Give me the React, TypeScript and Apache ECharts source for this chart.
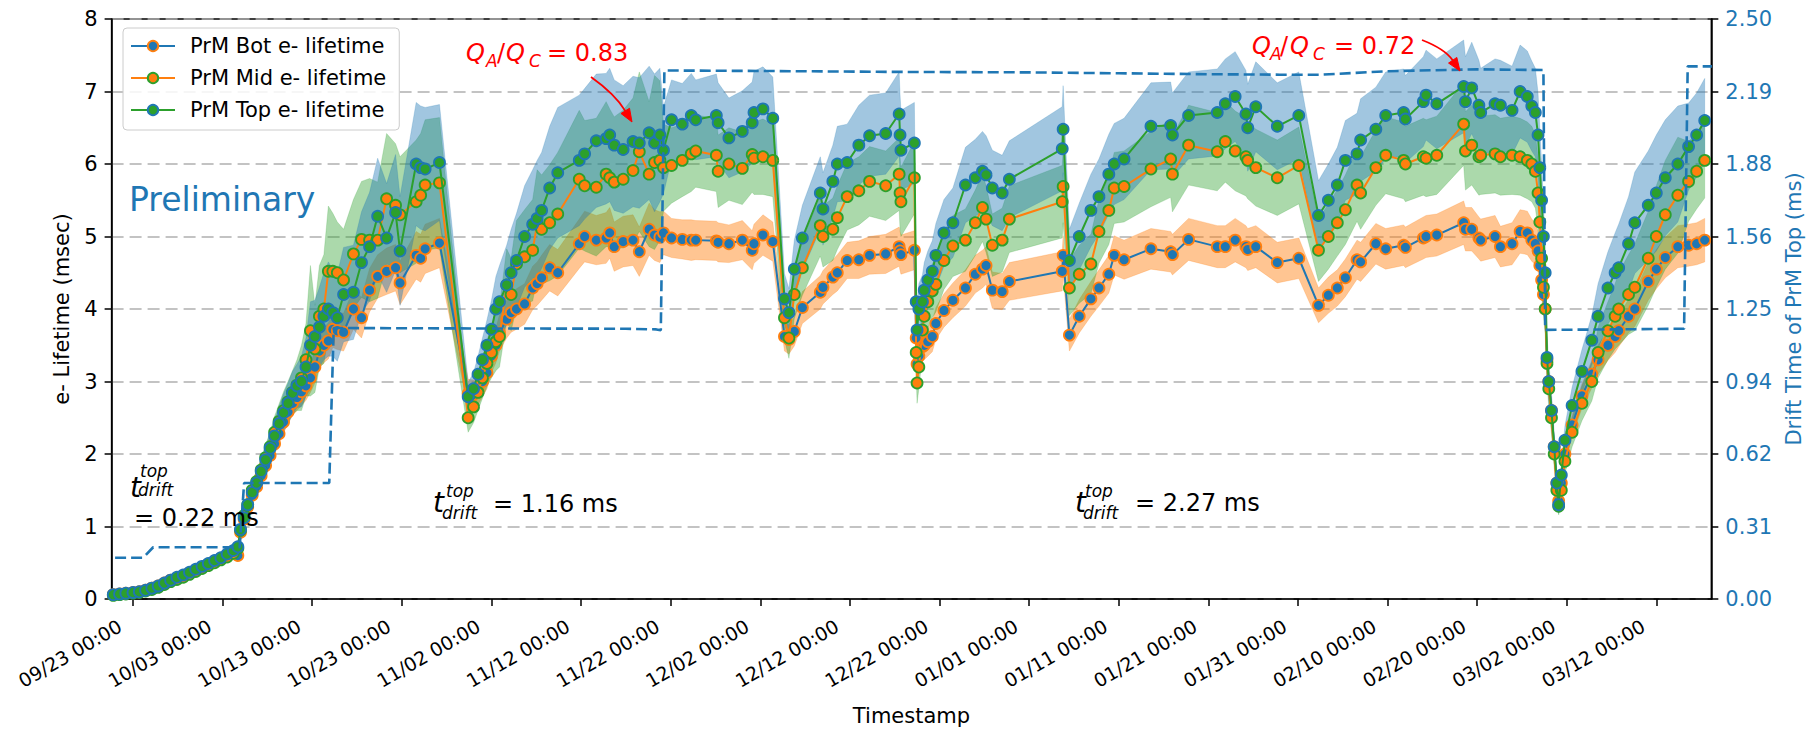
import React, { useEffect, useRef } from 'react';
import * as echarts from 'echarts';

// x values: days since 2018-09-23 00:00
const days = [
  -2.2, -1.5, -0.8, 0, 0.7, 1.4, 2.1, 2.8, 3.5, 4.2,
  4.9, 5.6, 6.3, 7.0, 7.7, 8.4, 9.1, 9.8, 10.5, 11.2,
  11.7, 12.0, 12.4, 12.8, 13.3, 13.8, 14.3, 14.8, 15.3, 15.8,
  16.3, 16.8, 17.3, 17.8, 18.3, 18.8, 19.3, 19.8, 20.3, 20.8,
  21.3, 21.8, 22.3, 22.8, 23.5, 24.6, 25.5, 26.4, 27.3, 28.3,
  29.3, 29.8, 31.6, 32.1, 32.6, 34.2, 37.4, 38.0, 38.5, 39.0,
  39.5, 40.0, 40.5, 40.9, 41.7, 42.2, 42.8, 43.7, 44.6, 45.1,
  45.6, 46.5, 47.4, 49.8, 50.4, 51.7, 52.8, 53.2, 53.7, 54.7,
  55.8, 56.5, 57.6, 58.2, 58.8, 59.2, 60.1, 61.3, 62.3, 62.8,
  65.1, 65.3, 66.5, 68.0, 69.1, 69.3, 70.3, 71.4, 72.7, 73.2,
  73.8, 74.7, 76.7, 77.0, 78.1, 78.6, 79.7, 81.0, 82.2, 84.0,
  85.5, 85.6, 85.7, 87.2, 87.4, 87.5, 87.7, 88.1, 88.3, 88.7,
  89.2, 89.6, 90.5, 91.5, 92.9, 94.0, 94.8, 95.2, 95.9, 97.0,
  97.8, 103.7, 103.8, 104.5, 105.6, 106.9, 107.8, 108.9, 109.5, 110.6,
  113.6, 115.8, 116.0, 117.8, 121.0, 121.9, 123.0, 124.2, 124.4, 125.3,
  127.7, 130.1, 132.3, 133.4, 134.4, 135.3, 136.6, 137.0, 138.7, 139.8,
  141.8, 142.0, 144.0, 144.3, 145.5, 148.5, 148.7, 149.4, 150.2, 150.4,
  152.0, 152.6, 153.9, 154.8, 155.6, 156.1, 156.5, 156.8, 157.0, 157.2,
  157.4, 157.6, 157.8, 158.0, 158.3, 158.6, 158.9, 159.1, 159.4, 159.8,
  160.6, 161.7, 162.8, 163.5, 164.6, 165.4, 165.8, 166.9, 167.6, 169.1,
  170.0, 171.0, 172.4, 173.6, 174.5, 175.4,
];

const botLifetime = [
  0.06, 0.07, 0.08, 0.09, 0.10, 0.12, 0.15, 0.18, 0.22, 0.26,
  0.29, 0.32, 0.36, 0.40, 0.44, 0.48, 0.52, 0.56, 0.61, 0.66,
  0.60, 0.92, 1.1, 1.27, 1.43, 1.55, 1.7, 1.84, 1.98, 2.14,
  2.28, 2.44, 2.58, 2.7, 2.78, 2.86, 2.94, 3.05, 3.2, 3.42,
  3.5, 3.56, 3.72, 3.7, 3.68, 4.0, 3.88, 4.26, 4.45, 4.52,
  4.57, 4.36, 4.74, 4.7, 4.83, 4.91, 2.83, 2.82, 2.88, 3.0,
  3.12, 3.35, 3.5, 3.67, 3.86, 3.95, 4.0, 4.07, 4.29, 4.35,
  4.43, 4.57, 4.5, 4.9, 5.0, 4.95, 4.98, 5.05, 4.86, 4.93,
  4.95, 4.79, 5.1, 5.02, 4.99, 5.05, 4.98, 4.96, 4.95, 4.95,
  4.94, 4.92, 4.9, 4.95, 4.81, 4.9, 5.02, 4.93, 3.62, 3.58,
  3.69, 4.02, 4.23, 4.3, 4.44, 4.5, 4.67, 4.68, 4.74, 4.76,
  4.86, 4.8, 4.75, 4.81, 3.6, 3.24, 3.35, 3.48, 3.5, 3.55,
  3.62, 3.8, 3.98, 4.12, 4.29, 4.48, 4.55, 4.6, 4.26, 4.24,
  4.38, 4.52, 4.74, 3.64, 3.9, 4.14, 4.29, 4.48, 4.74, 4.68,
  4.83, 4.79, 4.75, 4.96, 4.86, 4.86, 4.95, 4.86, 4.82, 4.86,
  4.64, 4.7, 4.05, 4.19, 4.29, 4.43, 4.68, 4.65, 4.9, 4.83,
  4.88, 4.85, 4.98, 5.0, 5.02, 5.19, 5.1, 5.1, 4.98, 4.95,
  5.0, 4.86, 4.9, 5.07, 5.05, 4.95, 4.9, 4.8, 4.6, 4.4,
  4.2, 4.0, 3.3, 3.0, 2.6, 2.1, 1.6, 1.35, 1.6, 2.0,
  2.4, 2.8, 3.1, 3.3, 3.5, 3.62, 3.7, 3.9, 4.0, 4.38,
  4.55, 4.71, 4.86, 4.88, 4.9, 4.95,
];

const botErr = [
  0.01, 0.01, 0.01, 0.01, 0.01, 0.01, 0.02, 0.02, 0.02, 0.02,
  0.02, 0.02, 0.03, 0.03, 0.03, 0.03, 0.03, 0.04, 0.04, 0.04,
  0.04, 0.06, 0.07, 0.08, 0.09, 0.1, 0.1, 0.11, 0.12, 0.13,
  0.14, 0.15, 0.16, 0.17, 0.18, 0.19, 0.2, 0.2, 0.22, 0.23,
  0.24, 0.25, 0.25, 0.26, 0.26, 0.28, 0.28, 0.3, 0.3, 0.32,
  0.32, 0.3, 0.33, 0.33, 0.34, 0.34, 0.2, 0.2, 0.2, 0.21,
  0.22, 0.23, 0.24, 0.25, 0.26, 0.27, 0.28, 0.28, 0.3, 0.3,
  0.31, 0.32, 0.32, 0.34, 0.35, 0.34, 0.35, 0.35, 0.34, 0.35,
  0.35, 0.34, 0.36, 0.35, 0.35, 0.3, 0.27, 0.27, 0.28, 0.27,
  0.27, 0.27, 0.26, 0.27, 0.27, 0.27, 0.28, 0.27, 0.2, 0.2,
  0.2, 0.22, 0.23, 0.23, 0.24, 0.25, 0.25, 0.26, 0.26, 0.27,
  0.27, 0.27, 0.27, 0.27, 0.2, 0.18, 0.19, 0.2, 0.2, 0.2,
  0.21, 0.22, 0.23, 0.24, 0.25, 0.26, 0.26, 0.26, 0.25, 0.25,
  0.26, 0.27, 0.27, 0.22, 0.23, 0.24, 0.25, 0.26, 0.27, 0.27,
  0.28, 0.28, 0.28, 0.29, 0.29, 0.29, 0.3, 0.29, 0.29, 0.29,
  0.28, 0.28, 0.24, 0.25, 0.25, 0.26, 0.27, 0.27, 0.28, 0.28,
  0.28, 0.28, 0.29, 0.29, 0.29, 0.3, 0.3, 0.3, 0.29, 0.29,
  0.29, 0.28, 0.29, 0.3, 0.3, 0.29, 0.29, 0.28, 0.27, 0.26,
  0.25, 0.24, 0.2, 0.18, 0.16, 0.13, 0.1, 0.09, 0.1, 0.12,
  0.15, 0.17, 0.19, 0.2, 0.21, 0.22, 0.22, 0.23, 0.24, 0.26,
  0.27, 0.28, 0.29, 0.29, 0.29, 0.3,
];

const midLifetime = [
  0.05, 0.06, 0.07, 0.08, 0.09, 0.11, 0.13, 0.16, 0.2, 0.24,
  0.27, 0.3, 0.34, 0.38, 0.42, 0.46, 0.5, 0.54, 0.58, 0.63,
  0.70, 0.95, 1.15, 1.3, 1.5, 1.62, 1.78, 1.95, 2.1, 2.3,
  2.45, 2.6, 2.72, 2.85, 2.95, 3.05, 3.3, 3.7, 3.45, 3.9,
  4.0, 4.52, 4.52, 4.5, 4.4, 4.76, 4.96, 4.95, 4.95, 5.52,
  5.43, 5.3, 5.48, 5.57, 5.71, 5.74, 2.5, 2.65, 2.85, 3.05,
  3.25, 3.4, 3.55, 3.62, 4.33, 4.2, 4.62, 4.72, 4.81, 5.17,
  5.1, 5.19, 5.31, 5.79, 5.7, 5.68, 5.86, 5.81, 5.75, 5.79,
  5.91, 6.17, 5.86, 6.02, 6.05, 5.95, 5.98, 6.05, 6.14, 6.18,
  6.12, 5.9, 6.0, 5.94, 6.13, 6.08, 6.1, 6.05, 3.88, 3.6,
  4.2, 4.57, 5.15, 5.0, 5.1, 5.26, 5.55, 5.63, 5.76, 5.7,
  5.86, 5.6, 5.48, 5.81, 3.4, 2.98, 3.2, 3.71, 3.9, 4.1,
  4.25, 4.34, 4.67, 4.87, 4.95, 5.19, 5.4, 5.24, 4.88, 4.95,
  5.24, 5.48, 5.69, 4.29, 4.48, 4.62, 5.07, 5.36, 5.67, 5.69,
  5.93, 6.07, 5.86, 6.26, 6.17, 6.31, 6.18, 6.1, 6.05, 5.95,
  5.81, 5.98, 4.81, 5.0, 5.19, 5.37, 5.71, 5.6, 5.95, 6.12,
  6.05, 6.0, 6.1, 6.08, 6.12, 6.55, 6.18, 6.26, 6.1, 6.12,
  6.14, 6.1, 6.12, 6.1, 6.05, 6.0, 5.9, 5.6, 5.2, 4.7,
  4.3, 4.0, 3.25, 2.9, 2.5, 2.0, 1.5, 1.28, 1.5, 1.9,
  2.3, 2.7, 3.0, 3.4, 3.7, 3.9, 4.0, 4.2, 4.3, 4.7,
  5.0, 5.3, 5.57, 5.76, 5.9, 6.05,
];

const midErr = [
  0.02, 0.02, 0.02, 0.02, 0.02, 0.02, 0.02, 0.02, 0.03, 0.03,
  0.03, 0.03, 0.04, 0.04, 0.04, 0.05, 0.05, 0.05, 0.06, 0.06,
  0.07, 0.08, 0.1, 0.12, 0.13, 0.15, 0.16, 0.18, 0.2, 0.22,
  0.24, 0.26, 0.28, 0.3, 0.35, 0.45, 0.5, 0.9, 0.6, 0.7,
  0.75, 0.9, 0.8, 0.7, 0.7, 0.75, 0.8, 0.85, 0.8, 0.9,
  0.85, 0.8, 0.85, 0.85, 0.9, 0.9, 0.2, 0.22, 0.25, 0.28,
  0.32, 0.35, 0.4, 0.42, 0.5, 0.5, 0.6, 0.65, 0.7, 0.75,
  0.75, 0.8, 0.85, 0.95, 0.9, 0.95, 1.0, 0.95, 0.9, 0.95,
  1.0, 1.1, 1.0, 1.2, 1.1, 0.6, 0.52, 0.5, 0.52, 0.5,
  0.5, 0.5, 0.5, 0.5, 0.52, 0.5, 0.52, 0.5, 0.3, 0.28,
  0.33, 0.38, 0.42, 0.42, 0.43, 0.44, 0.46, 0.47, 0.48, 0.48,
  0.5, 0.5, 0.48, 0.5, 0.3, 0.28, 0.3, 0.33, 0.35, 0.36,
  0.37, 0.38, 0.4, 0.42, 0.43, 0.45, 0.47, 0.46, 0.43, 0.44,
  0.46, 0.5, 0.5, 0.38, 0.4, 0.41, 0.44, 0.47, 0.49, 0.49,
  0.52, 0.53, 0.52, 0.55, 0.54, 0.56, 0.55, 0.54, 0.53, 0.53,
  0.52, 0.53, 0.43, 0.45, 0.46, 0.48, 0.5, 0.5, 0.52, 0.53,
  0.53, 0.52, 0.53, 0.53, 0.54, 0.57, 0.54, 0.55, 0.53, 0.54,
  0.54, 0.53, 0.54, 0.53, 0.53, 0.52, 0.51, 0.49, 0.45, 0.41,
  0.38, 0.35, 0.28, 0.25, 0.22, 0.18, 0.14, 0.12, 0.14, 0.17,
  0.2, 0.24, 0.27, 0.35, 0.4, 0.45, 0.5, 0.55, 0.6, 0.65,
  0.7, 0.75, 0.8, 0.55, 0.52, 0.52,
];

const topLifetime = [
  0.06, 0.07, 0.08, 0.09, 0.10, 0.12, 0.15, 0.18, 0.22, 0.26,
  0.3, 0.33, 0.37, 0.41, 0.45, 0.49, 0.53, 0.57, 0.62, 0.67,
  0.72, 0.96, 1.12, 1.3, 1.47, 1.6, 1.76, 1.92, 2.08, 2.25,
  2.42, 2.57, 2.7, 2.84, 2.94, 3.0, 3.2, 3.5, 3.62, 3.75,
  3.9, 4.0, 3.95, 3.88, 4.2, 4.23, 4.64, 4.86, 5.28, 4.98,
  5.33, 4.8, 6.0, 5.95, 5.93, 6.02, 2.79, 2.9, 3.1, 3.3,
  3.5, 3.72, 4.0, 4.1, 4.33, 4.5, 4.67, 5.0, 5.17, 5.25,
  5.36, 5.67, 5.88, 6.05, 6.14, 6.32, 6.35, 6.4, 6.26, 6.2,
  6.31, 6.29, 6.43, 6.29, 6.4, 6.19, 6.61, 6.55, 6.67, 6.61,
  6.67, 6.57, 6.36, 6.45, 6.57, 6.71, 6.76, 6.63, 4.14, 3.95,
  4.55, 4.98, 5.6, 5.38, 5.76, 6.0, 6.02, 6.26, 6.39, 6.42,
  6.69, 6.4, 6.19, 6.29, 4.1, 3.71, 4.0, 4.1, 4.26, 4.4,
  4.52, 4.74, 5.05, 5.19, 5.71, 5.81, 5.9, 5.85, 5.67, 5.6,
  5.79, 6.21, 6.48, 4.67, 5.0, 5.36, 5.55, 5.86, 6.0, 6.07,
  6.52, 6.53, 6.4, 6.67, 6.71, 6.83, 6.93, 6.69, 6.5, 6.79,
  6.52, 6.67, 5.29, 5.5, 5.71, 6.05, 6.14, 6.33, 6.48, 6.67,
  6.71, 6.62, 6.86, 6.95, 6.83, 7.07, 6.86, 7.05, 6.81, 6.71,
  6.83, 6.81, 6.74, 7.0, 6.93, 6.8, 6.71, 6.4, 5.95, 5.5,
  5.0, 4.5, 3.33, 3.0, 2.6, 2.1, 1.6, 1.3, 1.71, 2.19,
  2.67, 3.14, 3.57, 3.9, 4.29, 4.5, 4.57, 4.9, 5.19, 5.43,
  5.6, 5.81, 6.0, 6.24, 6.4, 6.6,
];

const topErr = [
  0.02, 0.02, 0.02, 0.02, 0.02, 0.02, 0.02, 0.03, 0.03, 0.03,
  0.03, 0.04, 0.04, 0.04, 0.05, 0.05, 0.05, 0.06, 0.06, 0.07,
  0.07, 0.08, 0.1, 0.12, 0.13, 0.15, 0.16, 0.18, 0.2, 0.22,
  0.24, 0.26, 0.28, 0.3, 0.3, 0.35, 0.4, 0.6, 0.5, 0.55,
  0.6, 0.65, 0.6, 0.6, 0.65, 0.65, 0.7, 0.75, 0.8, 0.75,
  0.8, 0.75, 0.85, 0.85, 0.85, 0.8, 0.2, 0.22, 0.25, 0.3,
  0.35, 0.4, 0.45, 0.5, 0.55, 0.6, 0.65, 0.7, 0.75, 0.8,
  0.8, 0.85, 0.9, 0.9, 0.9, 0.92, 0.9, 0.92, 0.9, 0.88,
  0.9, 0.9, 0.92, 0.95, 0.92, 0.6, 0.55, 0.56, 0.58, 0.55,
  0.57, 0.55, 0.55, 0.56, 0.56, 0.57, 0.58, 0.57, 0.35, 0.33,
  0.4, 0.45, 0.5, 0.5, 0.5, 0.52, 0.53, 0.55, 0.56, 0.56,
  0.58, 0.56, 0.55, 0.56, 0.35, 0.33, 0.35, 0.37, 0.38, 0.4,
  0.42, 0.44, 0.46, 0.48, 0.52, 0.53, 0.55, 0.54, 0.52, 0.52,
  0.53, 0.58, 0.6, 0.43, 0.46, 0.5, 0.52, 0.55, 0.56, 0.56,
  0.6, 0.6, 0.58, 0.6, 0.6, 0.62, 0.62, 0.6, 0.6, 0.62,
  0.6, 0.6, 0.48, 0.5, 0.52, 0.55, 0.56, 0.57, 0.58, 0.6,
  0.6, 0.6, 0.62, 0.62, 0.62, 0.64, 0.62, 0.63, 0.62, 0.61,
  0.62, 0.62, 0.61, 0.64, 0.63, 0.62, 0.61, 0.58, 0.54, 0.5,
  0.46, 0.42, 0.3, 0.27, 0.24, 0.19, 0.15, 0.12, 0.16, 0.2,
  0.25, 0.3, 0.34, 0.45, 0.5, 0.55, 0.6, 0.65, 0.7, 0.75,
  0.8, 0.8, 0.8, 0.6, 0.58, 0.58,
];

// drift time of PrM Top (ms), right axis, as a step line
const driftDays = [
  -2.0, 1.15, 2.25, 11.9, 12.4, 21.9, 22.4, 40.0, 55.0, 58.4, 58.9, 59.3,
  70.0, 85.0, 100.0, 110.0, 120.0, 128.0, 132.5, 140.0, 150.0, 157.4, 157.6,
  165.0, 173.1, 173.5, 176.2,
];
const driftTime = [
  0.178, 0.178, 0.223, 0.223, 0.5, 0.5, 1.168, 1.166, 1.165, 1.162, 1.158, 2.278,
  2.276, 2.272, 2.27, 2.266, 2.262, 2.26, 2.26, 2.275, 2.283, 2.28, 1.16,
  1.162, 1.165, 2.296, 2.296,
];

const xTickDays = [0, 10, 20, 30, 40, 50, 60, 70, 80, 90, 100, 110, 120, 130, 140, 150, 160, 170];
const xTickLabels = [
  '09/23 00:00', '10/03 00:00', '10/13 00:00', '10/23 00:00', '11/02 00:00', '11/12 00:00',
  '11/22 00:00', '12/02 00:00', '12/12 00:00', '12/22 00:00', '01/01 00:00', '01/11 00:00',
  '01/21 00:00', '01/31 00:00', '02/10 00:00', '02/20 00:00', '03/02 00:00', '03/12 00:00',
];
const rightTickLabels = ['0.00', '0.31', '0.62', '0.94', '1.25', '1.56', '1.88', '2.19', '2.50'];

const seriesNames = ['PrM Bot e- lifetime', 'PrM Mid e- lifetime', 'PrM Top e- lifetime'];

const BLUE = '#1f77b4';
const ORANGE = '#ff7f0e';
const GREEN = '#2ca02c';
const FONT = 'DejaVu Sans';
const X_MIN = -2.39;
const X_MAX = 176.14;

const N = Math.min(days.length, botLifetime.length, botErr.length, midLifetime.length,
  midErr.length, topLifetime.length, topErr.length);

function band(name: string, vals: number[], errs: number[], fill: string) {
  return {
    type: 'custom',
    name,
    coordinateSystem: 'cartesian2d',
    xAxisIndex: 0,
    yAxisIndex: 0,
    silent: true,
    z: 1,
    data: [[days[0], vals[0]]],
    renderItem: (_params: any, api: any) => {
      const upper: number[][] = [];
      const lower: number[][] = [];
      for (let i = 0; i < N; i++) {
        upper.push(api.coord([days[i], vals[i] + errs[i]]));
        lower.push(api.coord([days[i], Math.max(0, vals[i] - errs[i])]));
      }
      return {
        type: 'polygon',
        shape: { points: upper.concat(lower.reverse()) },
        style: { fill, stroke: fill, lineWidth: 0.5 },
      };
    },
  };
}

function lifetimeLine(name: string, vals: number[], color: string, edge: string, z: number) {
  const data: number[][] = [];
  for (let i = 0; i < N; i++) data.push([days[i], vals[i]]);
  return {
    type: 'line',
    name,
    data,
    symbol: 'circle',
    symbolSize: 11,
    showSymbol: true,
    z,
    lineStyle: { color, width: 2 },
    itemStyle: { color, borderColor: edge, borderWidth: 1.8 },
    emphasis: { disabled: true },
  };
}

function txt(text: string, x: number, y: number, size: number, fill: string, italic = false, align = 'left') {
  return {
    type: 'text',
    x,
    y,
    z: 100,
    silent: true,
    style: {
      text,
      fill,
      fontSize: size,
      fontFamily: FONT,
      fontStyle: italic ? 'italic' : 'normal',
      align,
      verticalAlign: 'middle',
    },
  };
}

function tDrift(tx: number, ty: number, supX: number, supY: number, subX: number, subY: number, val: string, vx: number, vy: number) {
  return [
    txt('t', tx, ty, 28, '#000', true),
    txt('top', supX, supY, 17, '#000', true),
    txt('drift', subX, subY, 17, '#000', true),
    txt(val, vx, vy, 24, '#000'),
  ];
}

function qRatio(x: number[], y: number, ySub: number, val: string) {
  return [
    txt('Q', x[0], y, 24, 'red', true),
    txt('A', x[1], ySub, 17, 'red', true),
    txt('/', x[2], y, 24, 'red'),
    txt('Q', x[3], y, 24, 'red', true),
    txt('C', x[4], ySub, 17, 'red', true),
    txt(val, x[5], y, 24, 'red'),
  ];
}

function arrow(x1: number, y1: number, cx: number, cy: number, x2: number, y2: number) {
  let dx = x2 - cx;
  let dy = y2 - cy;
  const len = Math.sqrt(dx * dx + dy * dy);
  dx /= len;
  dy /= len;
  const hl = 13;
  const hw = 5;
  const bx = x2 - hl * dx;
  const by = y2 - hl * dy;
  return [
    {
      type: 'bezierCurve',
      z: 100,
      silent: true,
      shape: { x1, y1, x2: bx, y2: by, cpx1: cx, cpy1: cy },
      style: { stroke: 'red', lineWidth: 1.8, fill: null },
    },
    {
      type: 'polygon',
      z: 100,
      silent: true,
      shape: { points: [[x2, y2], [bx - hw * dy, by + hw * dx], [bx + hw * dy, by - hw * dx]] },
      style: { fill: 'red', stroke: 'red', lineWidth: 1 },
    },
  ];
}

export default function App() {
  const ref = useRef<HTMLDivElement>(null);

  useEffect(() => {
    if (!ref.current) return;
    const chart = echarts.init(ref.current, undefined, { renderer: 'svg' });

    const driftData: number[][] = driftDays.map((d, i) => [d, driftTime[i]]);

    const graphic: any[] = [
      txt('Preliminary', 129, 199, 33, BLUE),
      ...tDrift(130, 487, 140, 471, 138, 490, '= 0.22 ms', 134, 518),
      ...tDrift(433, 502, 446, 491, 442, 513, '= 1.16 ms', 493, 504),
      ...tDrift(1075, 502, 1085, 491, 1083, 513, '= 2.27 ms', 1135, 503),
      ...qRatio([466, 486, 497, 506, 529, 547], 53, 61, '= 0.83'),
      ...qRatio([1252, 1270, 1280, 1290, 1313, 1334], 46, 54, '= 0.72'),
      ...arrow(591, 77, 615, 94, 632, 122),
      ...arrow(1422, 40, 1445, 49, 1460, 71),
    ];

    const option: any = {
      animation: false,
      backgroundColor: '#fff',
      textStyle: { fontFamily: FONT },
      grid: {
        left: 111.6,
        right: 99,
        top: 19,
        bottom: 130.5,
        show: true,
        borderColor: '#000',
        borderWidth: 1.5,
        backgroundColor: 'transparent',
        containLabel: false,
      },
      legend: {
        data: seriesNames,
        orient: 'vertical',
        left: 123,
        top: 28,
        padding: [7, 13, 9, 7],
        itemGap: 10,
        itemWidth: 44,
        itemHeight: 13,
        backgroundColor: 'rgba(255,255,255,0.85)',
        borderColor: '#cccccc',
        borderWidth: 1,
        borderRadius: 4,
        textStyle: { fontSize: 21, color: '#000', fontFamily: FONT, lineHeight: 22, padding: [0, 0, 0, 10] },
        selectedMode: false,
      },
      xAxis: {
        type: 'value',
        min: X_MIN,
        max: X_MAX,
        name: 'Timestamp',
        nameLocation: 'middle',
        nameGap: 106,
        nameTextStyle: { fontSize: 21, color: '#000', fontFamily: FONT },
        axisLine: { show: true, onZero: false, lineStyle: { color: '#000', width: 1.5 } },
        axisTick: { show: true, customValues: xTickDays, length: 7, inside: false, lineStyle: { color: '#000', width: 1.5 } },
        axisLabel: {
          customValues: xTickDays,
          rotate: 30,
          fontSize: 19,
          color: '#000',
          fontFamily: FONT,
          margin: 18,
          padding: [0, 15, 0, 0],
          formatter: (v: number) => xTickLabels[Math.round(v / 10)] ?? '',
        },
        splitLine: { show: false },
      },
      yAxis: [
        {
          type: 'value',
          min: 0,
          max: 8,
          interval: 1,
          position: 'left',
          name: 'e- Lifetime (msec)',
          nameLocation: 'middle',
          nameGap: 39,
          nameTextStyle: { fontSize: 21, color: '#000', fontFamily: FONT },
          axisLine: { show: true, onZero: false, lineStyle: { color: '#000', width: 1.5 } },
          axisTick: { show: true, length: 7, lineStyle: { color: '#000', width: 1.5 } },
          axisLabel: { fontSize: 21, color: '#000', fontFamily: FONT, margin: 14, showMinLabel: true, showMaxLabel: true },
          splitLine: { show: true, lineStyle: { color: '#b0b0b0', width: 1.5, type: [12, 6] } },
        },
        {
          type: 'value',
          min: 0,
          max: 2.5,
          interval: 0.3125,
          position: 'right',
          name: 'Drift Time of PrM Top (ms)',
          nameLocation: 'middle',
          nameGap: 66,
          nameTextStyle: { fontSize: 21, color: BLUE, fontFamily: FONT },
          axisLine: { show: true, onZero: false, lineStyle: { color: '#000', width: 1.5 } },
          axisTick: { show: true, length: 7, lineStyle: { color: '#000', width: 1.5 } },
          axisLabel: {
            fontSize: 21,
            color: BLUE,
            fontFamily: FONT,
            margin: 14,
            showMinLabel: true,
            showMaxLabel: true,
            formatter: (v: number) => rightTickLabels[Math.round(v / 0.3125)] ?? '',
          },
          splitLine: { show: false },
        },
      ],
      series: [
        band('Bot band', botLifetime, botErr, 'rgba(255,127,14,0.45)'),
        band('Mid band', midLifetime, midErr, 'rgba(44,160,44,0.4)'),
        band('Top band', topLifetime, topErr, 'rgba(31,119,180,0.42)'),
        lifetimeLine(seriesNames[0], botLifetime, BLUE, ORANGE, 3),
        lifetimeLine(seriesNames[1], midLifetime, ORANGE, GREEN, 4),
        lifetimeLine(seriesNames[2], topLifetime, GREEN, BLUE, 5),
        {
          type: 'line',
          name: 'Drift time',
          yAxisIndex: 1,
          data: driftData,
          symbol: 'none',
          z: 6,
          silent: true,
          lineStyle: { color: BLUE, width: 2.6, type: [11, 5] },
        },
      ],
      graphic,
    };

    chart.setOption(option);
    return () => {
      chart.dispose();
    };
  }, []);

  return (
    <div
      ref={ref}
      style={{ position: 'absolute', left: 0, top: 0, width: 1812, height: 731, background: '#fff' }}
    />
  );
}
